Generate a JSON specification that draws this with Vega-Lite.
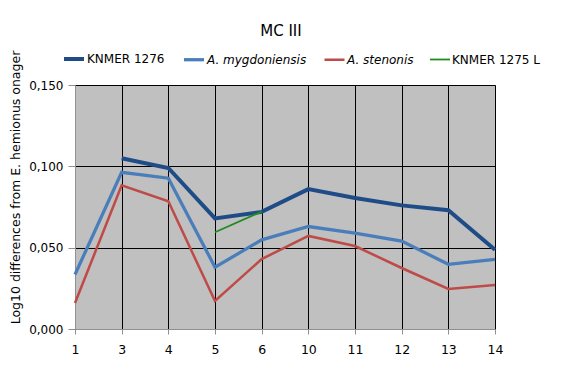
{
  "$schema": "https://vega.github.io/schema/vega-lite/v6.json",
  "width": 420,
  "height": 244,
  "autosize": "none",
  "padding": {"left": 75, "top": 85, "right": 66, "bottom": 42},
  "background": "white",
  "title": {"text": "MC III", "fontSize": 15, "fontWeight": "normal", "font": "DejaVu Sans", "color": "black", "offset": 8, "dx": -4},
  "data": {"values": [
    {"series": "KNMER 1276", "x": "3", "v": 0.105},
    {"series": "KNMER 1276", "x": "4", "v": 0.099},
    {"series": "KNMER 1276", "x": "5", "v": 0.068},
    {"series": "KNMER 1276", "x": "6", "v": 0.072},
    {"series": "KNMER 1276", "x": "10", "v": 0.086},
    {"series": "KNMER 1276", "x": "11", "v": 0.0805},
    {"series": "KNMER 1276", "x": "12", "v": 0.076},
    {"series": "KNMER 1276", "x": "13", "v": 0.073},
    {"series": "KNMER 1276", "x": "14", "v": 0.0487},
    {"series": "A. mygdoniensis", "x": "1", "v": 0.0335},
    {"series": "A. mygdoniensis", "x": "3", "v": 0.0963},
    {"series": "A. mygdoniensis", "x": "4", "v": 0.0927},
    {"series": "A. mygdoniensis", "x": "5", "v": 0.038},
    {"series": "A. mygdoniensis", "x": "6", "v": 0.0548},
    {"series": "A. mygdoniensis", "x": "10", "v": 0.063},
    {"series": "A. mygdoniensis", "x": "11", "v": 0.059},
    {"series": "A. mygdoniensis", "x": "12", "v": 0.054},
    {"series": "A. mygdoniensis", "x": "13", "v": 0.0398},
    {"series": "A. mygdoniensis", "x": "14", "v": 0.0428},
    {"series": "A. stenonis", "x": "1", "v": 0.016},
    {"series": "A. stenonis", "x": "3", "v": 0.0883},
    {"series": "A. stenonis", "x": "4", "v": 0.0785},
    {"series": "A. stenonis", "x": "5", "v": 0.0172},
    {"series": "A. stenonis", "x": "6", "v": 0.043},
    {"series": "A. stenonis", "x": "10", "v": 0.0572},
    {"series": "A. stenonis", "x": "11", "v": 0.051},
    {"series": "A. stenonis", "x": "12", "v": 0.0375},
    {"series": "A. stenonis", "x": "13", "v": 0.0246},
    {"series": "A. stenonis", "x": "14", "v": 0.027},
    {"series": "KNMER 1275 L", "x": "5", "v": 0.0595},
    {"series": "KNMER 1275 L", "x": "6", "v": 0.0722}
  ]},
  "mark": {"type": "line", "interpolate": "linear"},
  "encoding": {
    "x": {
      "field": "x", "type": "ordinal",
      "sort": ["1", "3", "4", "5", "6", "10", "11", "12", "13", "14"],
      "scale": {"type": "point", "padding": 0},
      "axis": {"title": null, "labelAngle": 0, "grid": true, "gridColor": "black", "gridWidth": 1, "domainColor": "#909090", "tickColor": "#909090", "tickSize": 5, "labelFontSize": 12.5, "labelFont": "DejaVu Sans", "labelColor": "black", "labelPadding": 9}
    },
    "y": {
      "field": "v", "type": "quantitative",
      "scale": {"domain": [0, 0.15], "nice": false, "zero": true},
      "axis": {"title": "Log10 differences from E. hemionus onager", "values": [0, 0.05, 0.1, 0.15], "labelExpr": "replace(format(datum.value, '.3f'), '.', ',')", "grid": true, "gridColor": "black", "gridWidth": 1, "domainColor": "#909090", "tickColor": "#909090", "tickSize": 7, "labelFontSize": 12, "labelFont": "DejaVu Sans", "labelColor": "black", "labelPadding": 5, "titleFont": "DejaVu Sans", "titleFontSize": 12.5, "titleFontWeight": "normal", "titleColor": "black", "titleX": -53, "titleY": 102, "titleAngle": -90, "titleAnchor": "middle"}
    },
    "color": {
      "field": "series", "type": "nominal",
      "scale": {"domain": ["KNMER 1276", "A. mygdoniensis", "A. stenonis", "KNMER 1275 L"], "range": ["#1f4c87", "#4a7ebb", "#be4b48", "#1e8c1e"]},
      "legend": {
        "title": null, "orient": "none", "direction": "horizontal", "legendX": -13, "legendY": -38,
        "symbolType": "stroke", "symbolSize": 400, "symbolStrokeWidth": 2, "labelFont": "DejaVu Sans", "labelFontSize": 12, "labelColor": "black", "labelOffset": 1, "columnPadding": 12, "padding": 0,
        "encode": {
          "labels": {"update": {"fontStyle": {"signal": "indexof(['A. mygdoniensis','A. stenonis'], datum.label) >= 0 ? 'italic' : 'normal'"}}},
          "symbols": {"update": {"strokeWidth": {"signal": "datum.value == 'KNMER 1276' ? 3.5 : 2"}}}
        }
      }
    },
    "strokeWidth": {
      "field": "series", "type": "nominal",
      "scale": {"domain": ["KNMER 1276", "A. mygdoniensis", "A. stenonis", "KNMER 1275 L"], "range": [4, 1.8, 1.8, 1.8]},
      "legend": null
    }
  },
  "config": {
    "view": {"fill": "#c0c0c0", "stroke": "#909090"}
  }
}
